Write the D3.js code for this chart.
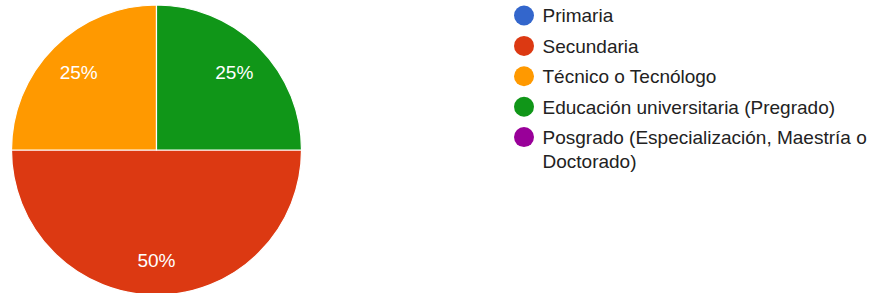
<!DOCTYPE html>
<html>
<head>
<meta charset="utf-8">
<script src="https://cdn.jsdelivr.net/npm/d3@7"></script>
<style>
  body { margin: 0; background: #fff; }
  svg { display: block; font-family: "Liberation Sans", Arial, sans-serif; }
</style>
</head>
<body>
<svg></svg>
<script>
"use strict";

const categories = [
  "Primaria",
  "Secundaria",
  "Técnico o Tecnólogo",
  "Educación universitaria (Pregrado)",
  "Posgrado (Especialización, Maestría o Doctorado)",
];
const values = [0, 50, 25, 25, 0];
const colors = ["#3366cc", "#dc3912", "#ff9900", "#109618", "#990099"];
// legend lines as they wrap in the picture
const legendLines = [
  ["Primaria"],
  ["Secundaria"],
  ["Técnico o Tecnólogo"],
  ["Educación universitaria (Pregrado)"],
  ["Posgrado (Especialización, Maestría o", "Doctorado)"],
];

const width = 877;
const height = 293;
const cx = 156.5;
const cy = 150;
const radius = 145;

const svg = d3.select("svg").attr("width", width).attr("height", height);

const dataset = categories.map((c, i) => ({ name: c, value: values[i], color: colors[i] }));

const pie = d3
  .pie()
  .sort(null)
  .value((d) => d.value)
  .startAngle(Math.PI / 2)
  .endAngle(Math.PI / 2 + 2 * Math.PI);

const arcs = pie(dataset).filter((d) => d.data.value > 0);
const arc = d3.arc().innerRadius(0).outerRadius(radius);
const labelArc = d3.arc().innerRadius(110).outerRadius(110);

const g = svg.append("g").attr("transform", `translate(${cx},${cy})`);

g.selectAll("path")
  .data(arcs)
  .enter()
  .append("path")
  .attr("d", arc)
  .attr("fill", (d) => d.data.color)
  .attr("stroke", "#fff")
  .attr("stroke-width", 1.2);

const total = d3.sum(values);
g.selectAll("text")
  .data(arcs)
  .enter()
  .append("text")
  .attr("transform", (d) => `translate(${labelArc.centroid(d)})`)
  .attr("text-anchor", "middle")
  .attr("dy", "0.36em")
  .attr("font-size", 19)
  .attr("fill", "#fff")
  .text((d) => `${Math.round((d.data.value / total) * 100)}%`);

// legend
const legend = svg.append("g").attr("transform", "translate(524,15.5)");
const item = legend
  .selectAll("g")
  .data(dataset)
  .enter()
  .append("g")
  .attr("transform", (d, i) => `translate(0,${i * 30.4})`);

item.append("circle").attr("r", 10).attr("fill", (d) => d.color);

item
  .append("text")
  .attr("x", 18.5)
  .attr("font-size", 19)
  .attr("fill", "#222")
  .selectAll("tspan")
  .data((d, i) => legendLines[i])
  .enter()
  .append("tspan")
  .attr("x", 18.5)
  .attr("dy", (d, j) => (j === 0 ? "0.36em" : "24.5px"))
  .text((d) => d);
</script>
</body>
</html>
